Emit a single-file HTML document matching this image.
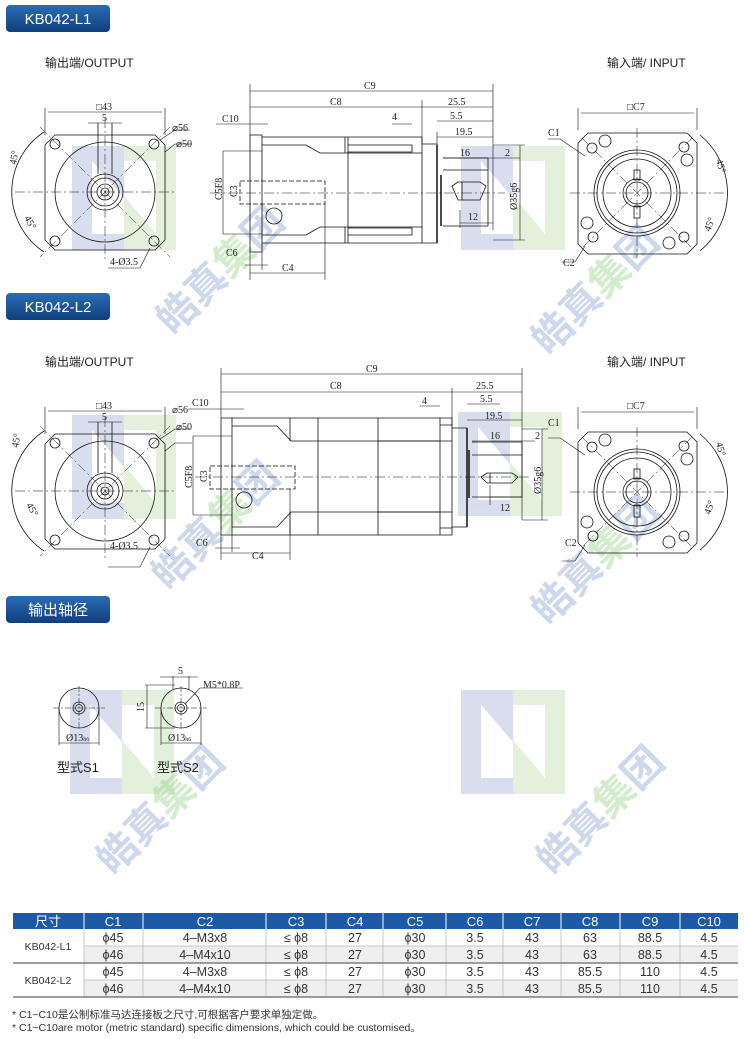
<!DOCTYPE html>
<html><head><meta charset="utf-8"><style>
html,body{margin:0;padding:0;background:#fff;}
svg{display:block;}
.t{font-family:"Liberation Serif","Noto Serif CJK SC",serif;font-size:10px;fill:#222;}
.s{font-family:"Liberation Sans","Noto Sans CJK SC",sans-serif;}
</style></head><body>
<svg width="750" height="1039" viewBox="0 0 750 1039" xmlns="http://www.w3.org/2000/svg">
<defs>
<linearGradient id="bg" x1="0" y1="0" x2="0" y2="1"><stop offset="0" stop-color="#2b6cb3"/><stop offset="1" stop-color="#103f7c"/></linearGradient>
<g id="logo" opacity="0.45">
<rect x="0" y="0" width="52" height="104" fill="#a9b8d8"/>
<rect x="52" y="0" width="52" height="104" fill="#bfe0b2"/>
<polygon points="20,15 52,52 52,88 20,88" fill="#fff"/>
<polygon points="52,15 84,15 84,88 52,50" fill="#fff"/>
</g>
<g id="wm" opacity="0.38" font-family="Noto Sans CJK SC,sans-serif" font-weight="bold" font-size="40">
<text x="-80" y="14" fill="#7d9ad0">皓真</text><text x="0" y="14" fill="#8fcf7f">集</text><text x="40" y="14" fill="#7d9ad0">团</text>
</g>
<g id="outv" fill="none" stroke="#111" stroke-width="0.8">
<path d="M55,135 H155 L165,145 V240 L155,250 H55 L45,240 V145 Z"/>
<circle cx="105" cy="192" r="50"/>
<circle cx="105" cy="192" r="18"/><circle cx="105" cy="192" r="14"/><circle cx="105" cy="192" r="8"/><circle cx="105" cy="192" r="4"/>
<circle cx="55" cy="144" r="5"/><circle cx="154" cy="144" r="5"/><circle cx="55" cy="241" r="5"/><circle cx="154" cy="241" r="5"/>
<path d="M98,123 V174 M112,123 V174" />
<path d="M45,108 V135 M165,108 V135" stroke-width="0.6"/>
<path d="M48,112 H162" stroke-width="0.6"/>
<path d="M88,123 H122" stroke-width="0.6"/>
<path d="M44,132 A72,72 0 0 0 44,252" />
<path d="M15,192 H175 M105,118 V262 M40,127 L170,257 M170,127 L40,257" stroke-dasharray="10,3,2,3" stroke-width="0.5"/>
<path d="M160,140 L175,130 H190 M165,152 L175,144 H192 M150,248 L140,268 H108" stroke-width="0.6"/>
</g>
<g id="inv" fill="none" stroke="#111" stroke-width="0.8">
<path d="M588,133 H687 L697,143 V244 L687,254 H588 L578,244 V143 Z"/>
<circle cx="637" cy="193" r="43"/><circle cx="637" cy="193" r="40"/><circle cx="637" cy="193" r="34"/>
<circle cx="637" cy="193" r="14"/><circle cx="637" cy="193" r="11"/>
<rect x="634" y="170" width="6" height="10"/><rect x="634" y="206" width="6" height="12"/>
<circle cx="592" cy="148" r="5"/><circle cx="605" cy="141" r="6"/><circle cx="684" cy="147" r="5"/><circle cx="687" cy="160" r="6"/>
<circle cx="587" cy="223" r="6"/><circle cx="593" cy="237" r="5"/><circle cx="669" cy="243" r="6"/><circle cx="684" cy="237" r="5"/>
<path d="M578,108 V130 M697,108 V130 M581,113 H694" stroke-width="0.6"/>
<path d="M700,135 A75,75 0 0 1 700,251" />
<path d="M570,193 H725 M637,128 V258 M582,138 L692,248 M692,138 L582,248" stroke-dasharray="10,3,2,3" stroke-width="0.5"/>
<path d="M548,139 H560 L585,156 M562,262 H575 L585,246" stroke-width="0.6"/>
</g>
</defs>

<use href="#logo" x="72" y="146"/>
<use href="#logo" x="461" y="146"/>
<use href="#logo" x="72" y="415"/>
<use href="#logo" x="458" y="412"/>
<use href="#logo" x="70" y="690"/>
<use href="#logo" x="461" y="690"/>
<use href="#wm" transform="translate(220,270) rotate(-45)"/>
<use href="#wm" transform="translate(595,290) rotate(-45)"/>
<use href="#wm" transform="translate(215,525) rotate(-45)"/>
<use href="#wm" transform="translate(595,560) rotate(-45)"/>
<use href="#wm" transform="translate(160,810) rotate(-45)"/>
<use href="#wm" transform="translate(600,810) rotate(-45)"/>

<rect x="6" y="5" width="104" height="27" rx="4" fill="url(#bg)"/>
<text x="58" y="24" text-anchor="middle" class="s" font-size="15" fill="#fff">KB042-L1</text>
<rect x="6" y="293" width="104" height="27" rx="4" fill="url(#bg)"/>
<text x="58" y="312" text-anchor="middle" class="s" font-size="15" fill="#fff">KB042-L2</text>
<rect x="6" y="596" width="104" height="27" rx="4" fill="url(#bg)"/>
<text x="58" y="615" text-anchor="middle" class="s" font-size="15" fill="#fff">输出轴径</text>

<text x="45" y="67" class="s" font-size="12" fill="#222">输出端/OUTPUT</text>
<text x="607" y="67" class="s" font-size="12" fill="#222">输入端/ INPUT</text>
<use href="#outv"/>
<use href="#inv"/>
<g class="t">
<text x="96" y="110">□43</text><text x="102" y="121">5</text>
<text x="172" y="131">⌀56</text><text x="176" y="147">⌀50</text>
<text x="110" y="265">4-Ø3.5</text>
<text x="16" y="165" transform="rotate(-80 16 165)">45°</text>
<text x="24" y="218" transform="rotate(60 24 218)">45°</text>
<text x="627" y="110">□C7</text><text x="548" y="136">C1</text><text x="563" y="266">C2</text>
<text x="716" y="160" transform="rotate(75 716 160)">45°</text>
<text x="710" y="232" transform="rotate(-70 710 232)">45°</text>
</g>
<g fill="none" stroke="#111" stroke-width="0.8">
<path d="M250,135 H262 V252 H250 Z"/>
<path d="M262,137 H422 V243 H262 M262,145 H306 L320,153 H345 V137 M345,153 H422 M262,235 H306 L320,227 H345 V243 M345,227 H422"/>
<path d="M348,137 V243 M348,145 H412 V152 H348 M348,228 H412 V235 H348"/>
<path d="M422,144 H437 V243 H422"/>
<path d="M437,145 V243 M441,175 V226" stroke-width="1.5"/>
<path d="M443,158 H488 V226 H443 M443,170 H488"/>
<path d="M452,186 L458,182 H480 L486,186 L480,200 H458 Z M462,182 V200"/>
<path d="M240,181 H325 V204 H240 Z" stroke-dasharray="5,2"/>
<circle cx="274" cy="216" r="8"/>
<path d="M223,151 H262 M223,234 H262 M223,151 V234" stroke-width="0.6"/>
<path d="M250,84 V135 M493,84 V230 M422,100 V144" stroke-width="0.6"/>
<path d="M250,91 H493 M250,107 H493 M216,124 H268 M392,124 H412 M437,121 H493 M437,137 H493 M443,158 H488 M488,158 H520 M460,223 H493 M460,210 V228 M437,132 V145" stroke-width="0.6"/>
<path d="M493,145 H525 M493,240 H525 M520,145 V240" stroke-width="0.6"/>
<path d="M245,265 H268 M250,273 H325 M325,204 V280 M262,252 V270 M250,252 V280" stroke-width="0.6"/>
<path d="M210,193 H505" stroke-dasharray="10,3,2,3" stroke-width="0.5"/>
</g>
<g class="t">
<text x="364" y="89">C9</text><text x="330" y="105">C8</text><text x="448" y="105">25.5</text>
<text x="222" y="122">C10</text><text x="392" y="120">4</text><text x="450" y="119">5.5</text><text x="455" y="135">19.5</text>
<text x="460" y="156">16</text><text x="505" y="156">2</text><text x="468" y="220">12</text>
<text x="226" y="256">C6</text><text x="282" y="271">C4</text>
<text x="222" y="200" transform="rotate(-90 222 200)">C5F8</text>
<text x="237" y="197" transform="rotate(-90 237 197)">C3</text>
<text x="517" y="210" transform="rotate(-90 517 210)">Ø35g6</text>
</g>

<text x="45" y="366" class="s" font-size="12" fill="#222">输出端/OUTPUT</text>
<text x="607" y="366" class="s" font-size="12" fill="#222">输入端/ INPUT</text>
<use href="#outv" y="299"/>
<use href="#inv" y="299"/>
<g class="t">
<text x="96" y="409">□43</text><text x="102" y="420">5</text>
<text x="172" y="413">⌀56</text><text x="176" y="430">⌀50</text>
<text x="110" y="549">4-Ø3.5</text>
<text x="18" y="448" transform="rotate(-80 18 448)">45°</text>
<text x="26" y="505" transform="rotate(60 26 505)">45°</text>
<text x="627" y="409">□C7</text><text x="548" y="426">C1</text><text x="565" y="546">C2</text>
<text x="716" y="443" transform="rotate(75 716 443)">45°</text>
<text x="710" y="515" transform="rotate(-70 710 515)">45°</text>
</g>
<g fill="none" stroke="#111" stroke-width="0.8">
<path d="M221,418 H232 V535 H221 Z"/>
<path d="M232,418 H452 V535 H232 M232,426 H277 L291,441 H452 M232,527 H277 L291,512 H452 M290,418 V441 M290,512 V535"/>
<path d="M318,418 V535 M378,418 V535 M378,441 H440 V425 H452 M378,512 H440 V528 H452 M440,418 V535"/>
<path d="M452,428 H467 V527 H452"/>
<path d="M467,428 V527 M469,450 V498" stroke-width="1.5"/>
<path d="M472,442 H522 V497 H472 M472,455 H522"/>
<path d="M481,477 L487,473 H512 L518,477 L512,483 H487 Z M490,473 V483"/>
<path d="M210,466 H295 V489 H210 Z" stroke-dasharray="5,2"/>
<circle cx="244" cy="500" r="8"/>
<path d="M193,436 H232 M193,515 H232 M193,436 V515" stroke-width="0.6"/>
<path d="M221,368 V418 M522,368 V520 M452,388 V428" stroke-width="0.6"/>
<path d="M221,374 H522 M221,392 H522 M188,409 H244 M420,406 H440 M467,404 H500 M467,420 H522 M472,441 H535 M490,497 H522 M490,485 V505" stroke-width="0.6"/>
<path d="M522,429 H548 M522,520 H548 M542,429 V520" stroke-width="0.6"/>
<path d="M215,548 H240 M221,553 H290 M290,489 V560 M232,535 V552 M221,535 V560" stroke-width="0.6"/>
<path d="M195,477 H530" stroke-dasharray="10,3,2,3" stroke-width="0.5"/>
</g>
<g class="t">
<text x="366" y="372">C9</text><text x="330" y="389">C8</text><text x="476" y="389">25.5</text>
<text x="192" y="406">C10</text><text x="422" y="404">4</text><text x="480" y="402">5.5</text><text x="485" y="419">19.5</text>
<text x="490" y="439">16</text><text x="535" y="439">2</text><text x="500" y="511">12</text>
<text x="196" y="546">C6</text><text x="252" y="559">C4</text>
<text x="192" y="488" transform="rotate(-90 192 488)">C5F8</text>
<text x="207" y="482" transform="rotate(-90 207 482)">C3</text>
<text x="541" y="494" transform="rotate(-90 541 494)">Ø35g6</text>
</g>

<g fill="none" stroke="#111" stroke-width="0.8">
<circle cx="79" cy="708" r="20"/><circle cx="79" cy="708" r="6"/><circle cx="79" cy="708" r="3.5"/>
<path d="M53,708 H105 M79,686 V730" stroke-dasharray="6,2,2,2" stroke-width="0.5"/>
<path d="M59,708 V745 M99,708 V745 M59,743 H99" stroke-width="0.6"/>
<circle cx="181" cy="708" r="20"/><circle cx="181" cy="708" r="6"/><circle cx="181" cy="708" r="3.5"/>
<path d="M155,708 H207 M181,686 V730" stroke-dasharray="6,2,2,2" stroke-width="0.5"/>
<path d="M161,708 V745 M201,708 V745 M161,743 H201" stroke-width="0.6"/>
<path d="M173,676 V690 M189,676 V690 M160,677 H198 M145,685 H175 M145,728 H175 M147,685 V728" stroke-width="0.6"/>
<path d="M185,704 L200,688 H243" stroke-width="0.6"/>
</g>
<g class="t">
<text x="178" y="674">5</text><text x="203" y="688">M5*0.8P</text>
<text x="66" y="741">Ø13<tspan font-size="6">h6</tspan></text>
<text x="168" y="741">Ø13<tspan font-size="6">h6</tspan></text>
<text x="144" y="712" transform="rotate(-90 144 712)">15</text>
</g>
<text x="57" y="772" class="s" font-size="13" fill="#222">型式S1</text>
<text x="157" y="772" class="s" font-size="13" fill="#222">型式S2</text>

<rect x="13" y="913" width="725" height="16" fill="#1d5aa6"/>
<rect x="84" y="946" width="654" height="17" fill="#efefef"/>
<rect x="84" y="980" width="654" height="17" fill="#efefef"/>
<g stroke="#fff" stroke-width="1">
<path d="M84,913 V929 M143,913 V929 M266,913 V929 M326,913 V929 M383,913 V929 M446,913 V929 M503,913 V929 M561,913 V929 M620,913 V929 M680,913 V929"/>
</g>
<g stroke="#bbb" stroke-width="0.8">
<path d="M84,929 V997 M143,929 V997 M266,929 V997 M326,929 V997 M383,929 V997 M446,929 V997 M503,929 V997 M561,929 V997 M620,929 V997 M680,929 V997"/>
<path d="M84,946 H738 M84,980 H738"/>
</g>
<path d="M13,963 H738 M13,997 H738" stroke="#666" stroke-width="1.2"/>
<g class="s" font-size="13" fill="#fff" text-anchor="middle">
<text x="48" y="926">尺寸</text><text x="113" y="926">C1</text><text x="205" y="926">C2</text><text x="296" y="926">C3</text><text x="355" y="926">C4</text><text x="415" y="926">C5</text><text x="475" y="926">C6</text><text x="532" y="926">C7</text><text x="590" y="926">C8</text><text x="650" y="926">C9</text><text x="709" y="926">C10</text>
</g>
<g class="s" font-size="12.5" fill="#333" text-anchor="middle">
<text x="48" y="950" font-size="10.5">KB042-L1</text><text x="48" y="984" font-size="10.5">KB042-L2</text>
<text x="113" y="942">ϕ45</text><text x="205" y="942">4–M3x8</text><text x="296" y="942">≤ ϕ8</text><text x="355" y="942">27</text><text x="415" y="942">ϕ30</text><text x="475" y="942">3.5</text><text x="532" y="942">43</text><text x="590" y="942">63</text><text x="650" y="942">88.5</text><text x="709" y="942">4.5</text>
<text x="113" y="959">ϕ46</text><text x="205" y="959">4–M4x10</text><text x="296" y="959">≤ ϕ8</text><text x="355" y="959">27</text><text x="415" y="959">ϕ30</text><text x="475" y="959">3.5</text><text x="532" y="959">43</text><text x="590" y="959">63</text><text x="650" y="959">88.5</text><text x="709" y="959">4.5</text>
<text x="113" y="976">ϕ45</text><text x="205" y="976">4–M3x8</text><text x="296" y="976">≤ ϕ8</text><text x="355" y="976">27</text><text x="415" y="976">ϕ30</text><text x="475" y="976">3.5</text><text x="532" y="976">43</text><text x="590" y="976">85.5</text><text x="650" y="976">110</text><text x="709" y="976">4.5</text>
<text x="113" y="993">ϕ46</text><text x="205" y="993">4–M4x10</text><text x="296" y="993">≤ ϕ8</text><text x="355" y="993">27</text><text x="415" y="993">ϕ30</text><text x="475" y="993">3.5</text><text x="532" y="993">43</text><text x="590" y="993">85.5</text><text x="650" y="993">110</text><text x="709" y="993">4.5</text>
</g>
<text x="12" y="1018" class="s" font-size="10.5" fill="#333">* C1~C10是公制标准马达连接板之尺寸,可根据客户要求单独定做。</text>
<text x="12" y="1031" class="s" font-size="10.5" fill="#333">* C1~C10are motor (metric standard) specific dimensions, which could be customised。</text>
</svg>
</body></html>
